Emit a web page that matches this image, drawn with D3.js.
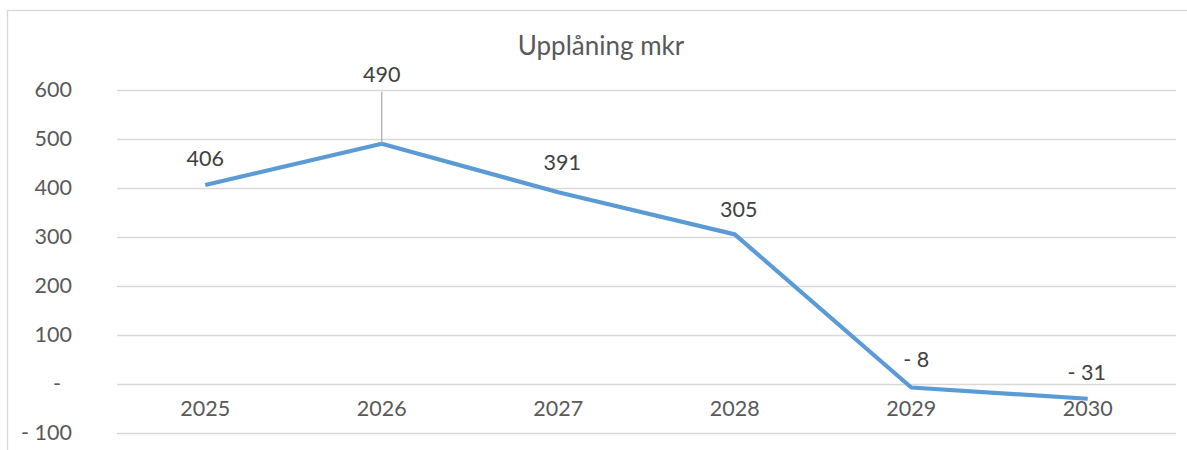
<!DOCTYPE html>
<html>
<head>
<meta charset="utf-8">
<script src="https://cdn.jsdelivr.net/npm/d3@7"></script>
<style>
  html, body { margin: 0; padding: 0; background: #fff; }
  svg text { font-family: Lato, "Open Sans", sans-serif; }
</style>
</head>
<body>
<svg id="chart" width="1187" height="450"></svg>
<script>
const title = "Upplåning mkr";
const categories = ["2025", "2026", "2027", "2028", "2029", "2030"];
const values = [406, 490, 391, 305, -8, -31];
const yTicks = [-100, 0, 100, 200, 300, 400, 500, 600];

const W = 1187, H = 450;
const margin = { left: 117, right: 11, top: 90, bottom: 18 };
const svg = d3.select("#chart");

// chart border
svg.append("rect")
  .attr("x", 7.5).attr("y", 10.5)
  .attr("width", 1200).attr("height", 500)
  .attr("fill", "#fff").attr("stroke", "#d9d9d9").attr("stroke-width", 1.3);

const x = d3.scaleBand().domain(categories).range([margin.left, W - margin.right]);
const y = d3.scaleLinear().domain([-100, 600]).range([432.5, 90]);

// gridlines
svg.append("g")
  .selectAll("line").data(yTicks).join("line")
  .attr("x1", margin.left).attr("x2", W - margin.right)
  .attr("y1", d => Math.round(y(d)) + 0.5).attr("y2", d => Math.round(y(d)) + 0.5)
  .attr("stroke", "#d9d9d9").attr("stroke-width", 1.5);

// y axis labels
const fmt = d => d === 0 ? "-" : (d < 0 ? "- " + Math.abs(d) : String(d));
const yAxis = svg.append("g")
  .attr("transform", "translate(72,0)")
  .call(d3.axisLeft(y).tickValues(yTicks).tickFormat(fmt).tickSize(0).tickPadding(0));
yAxis.select(".domain").remove();
yAxis.selectAll("text")
  .attr("fill", "#595959").style("font-size", "21.5px")
  .attr("dx", d => d === 0 ? -11 : 0);

// x axis labels at zero line
const xAxis = svg.append("g")
  .attr("transform", `translate(0,${y(0)})`)
  .call(d3.axisBottom(x).tickSize(0).tickPadding(17));
xAxis.select(".domain").remove();
xAxis.selectAll("text").attr("fill", "#595959").style("font-size", "21.5px");

// line
const line = d3.line()
  .x((d, i) => x(categories[i]) + x.bandwidth() / 2)
  .y(d => y(d));
svg.append("path")
  .datum(values)
  .attr("d", line)
  .attr("fill", "none")
  .attr("stroke", "#5b9bd5")
  .attr("stroke-width", 4.2)
  .attr("stroke-linejoin", "round");

// data labels
const labelFmt = d => d < 0 ? "- " + Math.abs(d) : String(d);
const labelDx = [0, 0, 4, 4, 5, -1];
const labelDy = [-27, -70, -30, -25, -28, -27];
svg.append("g").selectAll("text").data(values).join("text")
  .attr("x", (d, i) => x(categories[i]) + x.bandwidth() / 2 + labelDx[i])
  .attr("y", (d, i) => y(d) + labelDy[i])
  .attr("text-anchor", "middle")
  .attr("dominant-baseline", "central")
  .attr("fill", "#404040")
  .style("font-size", "21.5px")
  .text(labelFmt);

// leader line for 2026 label
const cx1 = x(categories[1]) + x.bandwidth() / 2;
svg.append("line")
  .attr("x1", cx1).attr("x2", cx1)
  .attr("y1", y(values[1]) - 52).attr("y2", y(values[1]))
  .attr("stroke", "#a6a6a6").attr("stroke-width", 1.2);

// title
svg.append("text")
  .attr("x", 601).attr("y", 45)
  .attr("text-anchor", "middle")
  .attr("dominant-baseline", "central")
  .attr("fill", "#595959")
  .style("font-size", "26px")
  .text(title);
</script>
</body>
</html>
